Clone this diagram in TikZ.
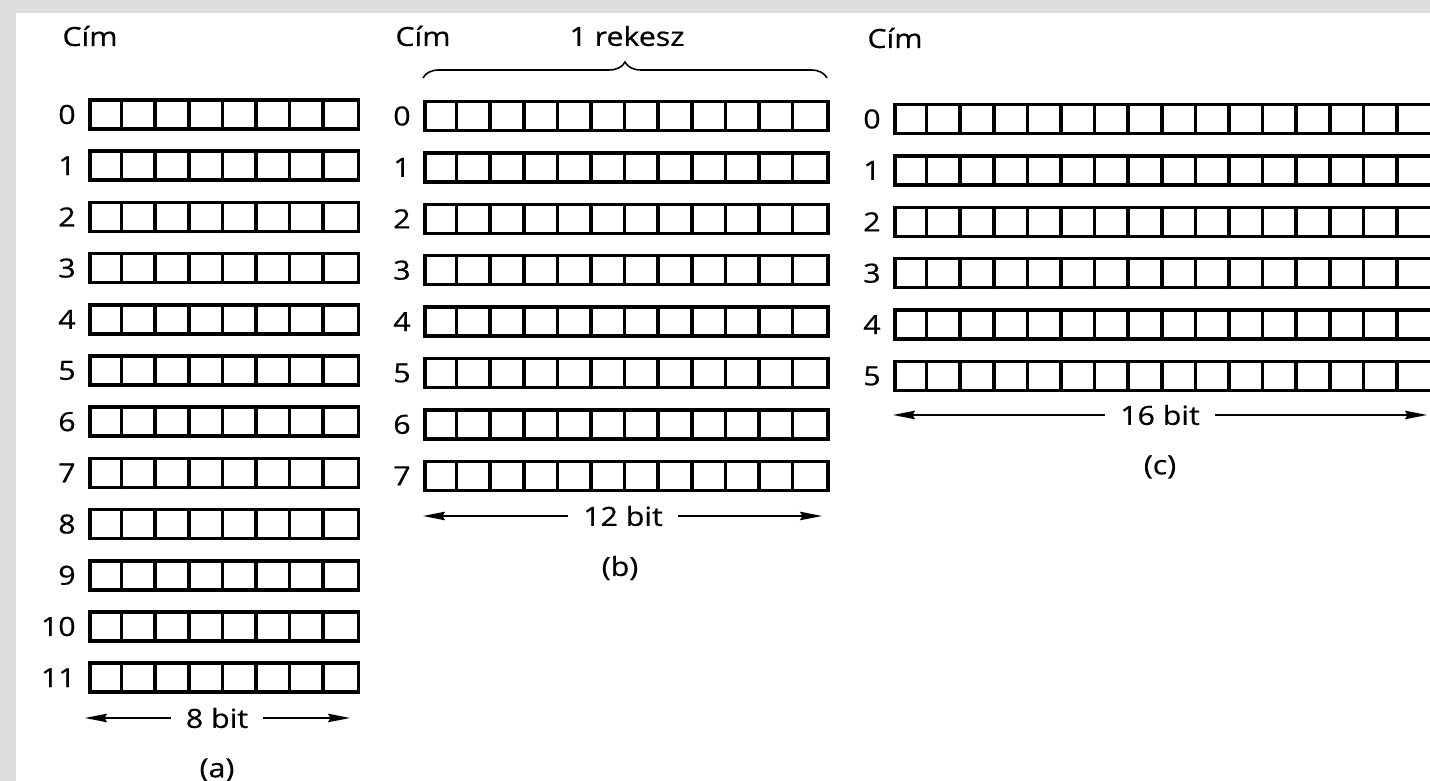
\documentclass[tikz,border=0pt]{standalone}
\usepackage{fontspec}
\setmainfont{Open Sans}[FakeStretch=1.15, FakeBold=0.6]
\usetikzlibrary{positioning, arrows.meta, decorations.pathreplacing}
\definecolor{pagegray}{RGB}{221,221,221}
\tikzset{
  rowbox/.style={draw, line width=2pt, minimum height=0.58cm,
    inner sep=0pt, anchor=west},
  cellsep/.style={line width=2pt},
  addr/.style={inner sep=0pt},
  bitlabel/.style={inner sep=0.3cm},
  dimarrow/.style={-{Stealth[length=0.44cm, width=0.17cm, inset=0.05cm]},
    line width=1pt},
}
\begin{document}
\begin{tikzpicture}[font=\fontsize{15}{18}\selectfont]
    \useasboundingbox (0,0) rectangle (28.6,15.62);
    % Scanned page: grey margin, white paper
    \fill[pagegray] (0,0) rectangle (28.6,15.62);
    \fill[white] (0.32,0) rectangle (28.6,15.36);
    % (a) 12 addresses, 8 bit cells each
    \node (cima) at (1.80,14.90) {Cím};
    \foreach \r in {0,...,11} {
      \pgfmathsetmacro{\yy}{13.33-1.024*\r}
      \node[rowbox, minimum width=5.376cm] (a\r) at (1.76,\yy) {};
      \foreach \c in {1,...,7}
        \draw[cellsep] ([xshift=\c*0.672cm]a\r.south west)
          -- ([xshift=\c*0.672cm]a\r.north west);
      \node[addr, left=0.24cm of a\r] (aaddr\r) {\r};
    }
    \node[bitlabel] (abit) at (4.34,1.26) {8 bit};
    \coordinate (aleft) at (1.70,1.26);
    \coordinate (aright) at (7.00,1.26);
    \draw[dimarrow] (abit) -- (aleft);
    \draw[dimarrow] (abit) -- (aright);
    \node (acap) at (4.34,0.22) {(a)};
    % (b) 8 addresses, 12 bit cells each
    \node (cimb) at (8.46,14.90) {Cím};
    \node (rekesz) at (12.54,14.90) {1 rekesz};
    \coordinate (bracel) at (8.46,14.06);
    \coordinate (bracer) at (16.54,14.06);
    \draw[decorate, decoration={brace, amplitude=0.32cm}, line width=0.9pt]
      (bracel) -- (bracer);
    \foreach \r in {0,...,7} {
      \pgfmathsetmacro{\yy}{13.30-1.028*\r}
      \node[rowbox, minimum width=8.064cm] (b\r) at (8.46,\yy) {};
      \foreach \c in {1,...,11}
        \draw[cellsep] ([xshift=\c*0.672cm]b\r.south west)
          -- ([xshift=\c*0.672cm]b\r.north west);
      \node[addr, left=0.24cm of b\r] (baddr\r) {\r};
    }
    \node[bitlabel] (bbit) at (12.46,5.30) {12 bit};
    \coordinate (bleft) at (8.46,5.30);
    \coordinate (bright) at (16.44,5.30);
    \draw[dimarrow] (bbit) -- (bleft);
    \draw[dimarrow] (bbit) -- (bright);
    \node (bcap) at (12.40,4.26) {(b)};
    % (c) 6 addresses, 16 bit cells each (runs off the right edge)
    \node (cimc) at (17.90,14.86) {Cím};
    \foreach \r in {0,...,5} {
      \pgfmathsetmacro{\yy}{13.24-1.028*\r}
      \node[rowbox, minimum width=10.752cm] (c\r) at (17.86,\yy) {};
      \foreach \c in {1,...,15}
        \draw[cellsep] ([xshift=\c*0.672cm]c\r.south west)
          -- ([xshift=\c*0.672cm]c\r.north west);
      \node[addr, left=0.24cm of c\r] (caddr\r) {\r};
    }
    \node[bitlabel] (cbit) at (23.20,7.32) {16 bit};
    \coordinate (cleft) at (17.86,7.32);
    \coordinate (cright) at (28.54,7.32);
    \draw[dimarrow] (cbit) -- (cleft);
    \draw[dimarrow] (cbit) -- (cright);
    \node (ccap) at (23.20,6.28) {(c)};
\end{tikzpicture}
\end{document}
